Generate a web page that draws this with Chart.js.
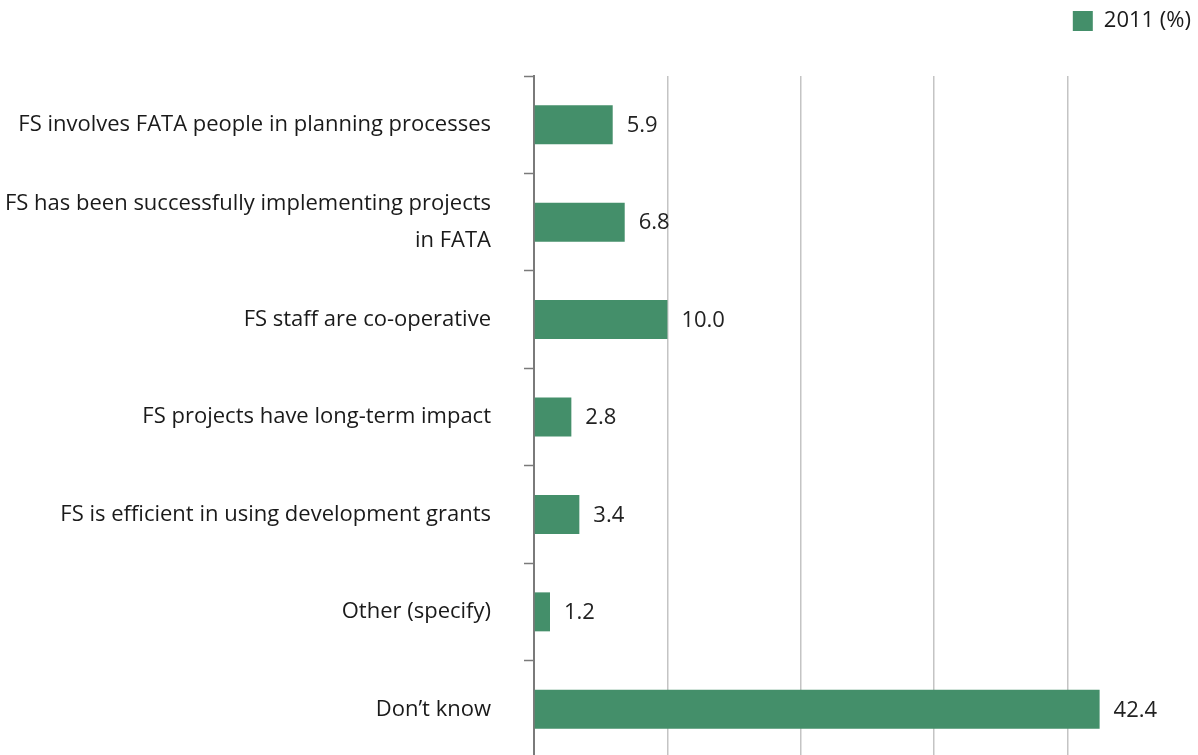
<!DOCTYPE html>
<html>
<head>
<meta charset="utf-8">
<script src="https://cdn.jsdelivr.net/npm/chart.js@4.4.1/dist/chart.umd.min.js"></script>
<style>
  html, body { margin: 0; padding: 0; background: #ffffff; overflow: hidden; }
  canvas { display: block; }
</style>
</head>
<body>
<canvas id="chart" width="1201" height="758"></canvas>
<script>
// Reasons given for a positive view of FS, survey 2011 (%)
const categories = [
  'FS involves FATA people in planning processes',
  ['FS has been successfully implementing projects', 'in FATA'],
  'FS staff are co-operative',
  'FS projects have long-term impact',
  'FS is efficient in using development grants',
  'Other (specify)',
  'Don\u2019t know'
];
const values2011 = [5.9, 6.8, 10.0, 2.8, 3.4, 1.2, 42.4];
const seriesName = '2011 (%)';
const xMin = 0;
const xMax = 50;
const xStep = 10;

const FONT = '"Open Sans", sans-serif';
const FONT_SIZE = 22;
const BAR_COLOR = '#448f6a';

// Value labels just past the end of each bar
const valueLabels = {
  id: 'valueLabels',
  afterDatasetsDraw(chart) {
    const ctx = chart.ctx;
    ctx.save();
    ctx.font = FONT_SIZE + 'px ' + FONT;
    ctx.fillStyle = '#222222';
    ctx.textAlign = 'left';
    ctx.textBaseline = 'middle';
    chart.data.datasets.forEach((ds, di) => {
      const meta = chart.getDatasetMeta(di);
      meta.data.forEach((bar, i) => {
        ctx.fillText(ds.data[i].toFixed(1), bar.x + 14, bar.y + 1);
      });
    });
    ctx.restore();
  }
};

// Extra space between the legend and the plot
const legendGap = {
  id: 'legendGap',
  afterInit(chart) {
    const legend = chart.legend;
    const fit = legend.fit;
    legend.fit = function () {
      fit.call(this);
      this.height += 34;
    };
  }
};

new Chart(document.getElementById('chart'), {
  type: 'bar',
  data: {
    labels: categories,
    datasets: [{
      label: seriesName,
      data: values2011,
      backgroundColor: BAR_COLOR,
      borderWidth: 0,
      barPercentage: 0.4,
      categoryPercentage: 1.0
    }]
  },
  options: {
    indexAxis: 'y',
    responsive: false,
    animation: false,
    devicePixelRatio: 1,
    layout: { padding: 0 },
    plugins: {
      legend: {
        position: 'top',
        align: 'end',
        labels: {
          boxWidth: 20,
          boxHeight: 20,
          padding: 10,
          color: '#1a1a1a',
          font: { family: FONT, size: FONT_SIZE }
        }
      },
      tooltip: { enabled: false }
    },
    scales: {
      x: {
        min: xMin,
        max: xMax,
        ticks: { display: false, stepSize: xStep },
        grid: {
          color: '#c4c4c4',
          lineWidth: 1.5,
          drawTicks: false
        },
        border: { display: false }
      },
      y: {
        afterFit(scale) {
          scale.width = 534;
          scale.paddingTop = 0;
          scale.paddingBottom = 0;
        },
        ticks: {
          color: '#1a1a1a',
          padding: 33,
          font: { family: FONT, size: FONT_SIZE, lineHeight: 1.68 }
        },
        grid: {
          drawOnChartArea: false,
          drawTicks: true,
          tickLength: 10,
          tickColor: '#7a7a7a',
          tickWidth: 1.5
        },
        border: { display: true, color: '#7a7a7a', width: 2 }
      }
    }
  },
  plugins: [valueLabels, legendGap]
});
</script>
</body>
</html>
